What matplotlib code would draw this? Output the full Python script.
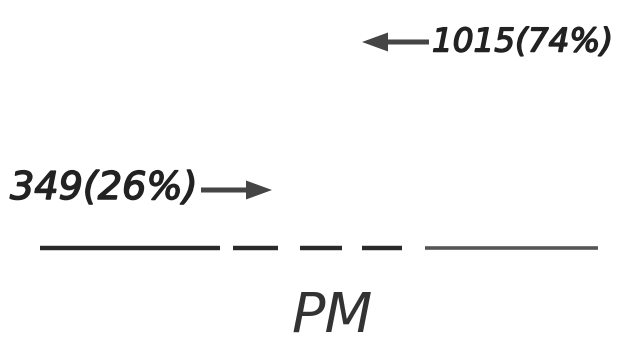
import matplotlib
matplotlib.use("Agg")
import matplotlib.pyplot as plt
import matplotlib.patheffects as pe

# data
counts = [1015, 349]
percents = [74, 26]
lane_label = "PM"

fig = plt.figure(figsize=(6.34, 3.45), dpi=100)
ax = fig.add_axes([0, 0, 1, 1])
ax.set_xlim(0, 634)
ax.set_ylim(345, 0)
ax.axis("off")

arrow_col = "#454545"
txt_col = "#222222"
bold = [pe.withStroke(linewidth=1.1, foreground=txt_col)]

# upper band label (arrow pointing left)
ax.arrow(429, 42, -67, 0, width=5, head_width=19, head_length=26,
         length_includes_head=True, color=arrow_col, lw=0)
ax.text(432, 42, f"{counts[0]}({percents[0]}%)", ha="left", va="center",
        fontsize=23.5, style="italic", family="DejaVu Sans", color=txt_col,
        path_effects=bold)

# lower band label (arrow pointing right)
ax.text(10, 189, f"{counts[1]}({percents[1]}%)", ha="left", va="center",
        fontsize=27.5, style="italic", family="DejaVu Sans", color=txt_col,
        path_effects=bold)
ax.arrow(201, 190, 71, 0, width=5, head_width=19, head_length=26,
         length_includes_head=True, color=arrow_col, lw=0)

# baseline / well line
dash_segments = [(40, 220), (233, 278), (300, 342), (362, 402)]
for a, b in dash_segments:
    ax.plot([a, b], [248, 248], color="#2a2a2a", lw=3.2, solid_capstyle="butt")
ax.plot([425, 598], [248, 248], color="#555555", lw=2.6, solid_capstyle="butt")

ax.text(332, 316, lane_label, ha="center", va="center", fontsize=40,
        style="italic", family="DejaVu Sans", color="#333333")

fig.savefig("out.png", dpi=100, facecolor="white")
